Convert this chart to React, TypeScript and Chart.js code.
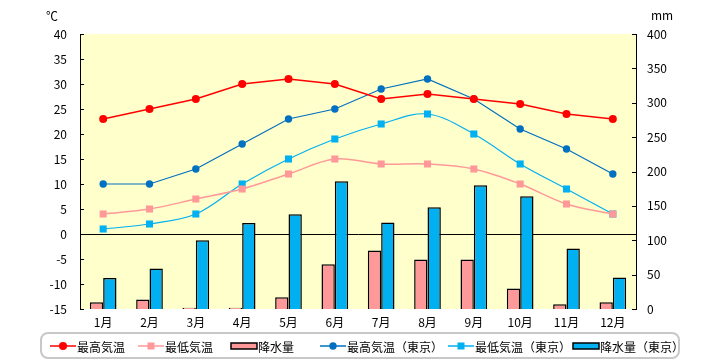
import React, { useEffect, useRef } from "react";
import { Chart, registerables } from "chart.js";

Chart.register(...registerables);

const months = ["1月", "2月", "3月", "4月", "5月", "6月", "7月", "8月", "9月", "10月", "11月", "12月"];
const maxTemp = [23, 25, 27, 30, 31, 30, 27, 28, 27, 26, 24, 23];
const minTemp = [4, 5, 7, 9, 12, 15, 14, 14, 13, 10, 6, 4];
const rain = [10, 14, 2, 2, 17, 65, 85, 72, 72, 30, 7, 10];
const maxTempTokyo = [10, 10, 13, 18, 23, 25, 29, 31, 27, 21, 17, 12];
const minTempTokyo = [1, 2, 4, 10, 15, 19, 22, 24, 20, 14, 9, 4];
const rainTokyo = [45, 59, 100, 125, 138, 186, 126, 148, 180, 164, 88, 46];

const FONT = "'Noto Sans CJK JP', 'Noto Sans', sans-serif";

const legendStarts = [50, 138, 231, 320, 448, 573];

const customPlugin = {
  id: "custom",
  beforeDraw(chart: any) {
    const { ctx, chartArea } = chart;
    ctx.save();
    ctx.fillStyle = "#FFFFCC";
    ctx.fillRect(chartArea.left, chartArea.top, chartArea.right - chartArea.left, chartArea.bottom - chartArea.top);
    ctx.restore();
  },
  afterDraw(chart: any) {
    const { ctx, chartArea } = chart;
    ctx.save();
    ctx.strokeStyle = "#000";
    ctx.lineWidth = 1;
    const ys = chart.scales.y;
    ys.ticks.forEach((t: any, i: number) => {
      const py = Math.round(ys.getPixelForTick(i)) + 0.5;
      ctx.beginPath();
      ctx.moveTo(chartArea.left, py);
      ctx.lineTo(chartArea.left + 4, py);
      ctx.stroke();
    });
    const y1 = chart.scales.y1;
    y1.ticks.forEach((t: any, i: number) => {
      const py = Math.round(y1.getPixelForTick(i)) + 0.5;
      ctx.beginPath();
      ctx.moveTo(chartArea.right - 4, py);
      ctx.lineTo(chartArea.right, py);
      ctx.stroke();
    });
    ctx.fillStyle = "#000";
    ctx.font = `12px ${FONT}`;
    ctx.textAlign = "center";
    ctx.textBaseline = "middle";
    ctx.fillText("℃", 52, 16);
    ctx.fillText("mm", 662, 15);
    ctx.strokeStyle = "#C8C8C8";
    ctx.lineWidth = 2;
    ctx.beginPath();
    (ctx as any).roundRect(41, 333, 638, 25, 7);
    ctx.stroke();
    const ly = 346;
    chart.data.datasets.forEach((ds: any, i: number) => {
      const x = legendStarts[i];
      if (ds.type === "bar") {
        ctx.fillStyle = ds.backgroundColor;
        ctx.fillRect(x, ly - 3, 26, 6);
        ctx.strokeStyle = "#000";
        ctx.lineWidth = 1.5;
        ctx.strokeRect(x, ly - 3, 26, 6);
      } else {
        ctx.strokeStyle = ds.borderColor;
        ctx.lineWidth = 1.5;
        ctx.beginPath();
        ctx.moveTo(x, ly);
        ctx.lineTo(x + 26, ly);
        ctx.stroke();
        ctx.fillStyle = ds.pointBackgroundColor;
        if (ds.pointStyle === "rect") {
          ctx.fillRect(x + 13 - 3.5, ly - 3.5, 7, 7);
        } else {
          ctx.beginPath();
          ctx.arc(x + 13, ly, ds.pointRadius, 0, Math.PI * 2);
          ctx.fill();
        }
      }
      ctx.fillStyle = "#000";
      ctx.textAlign = "left";
      ctx.textBaseline = "middle";
      ctx.font = `12px ${FONT}`;
      ctx.fillText(ds.label, x + 27, ly + 1);
    });
    ctx.restore();
  },
};

export default function App() {
  const ref = useRef<HTMLCanvasElement | null>(null);
  useEffect(() => {
    if (!ref.current) return;
    const chart = new Chart(ref.current, {
      type: "bar",
      data: {
        labels: months,
        datasets: [
          {
            type: "line",
            label: "最高気温",
            data: maxTemp,
            yAxisID: "y",
            borderColor: "#FF0000",
            backgroundColor: "#FF0000",
            pointBackgroundColor: "#FF0000",
            pointBorderColor: "#FF0000",
            pointStyle: "circle",
            pointRadius: 4,
            pointBorderWidth: 0,
            borderWidth: 1.5,
            tension: 0,
            order: 0,
          },
          {
            type: "line",
            label: "最低気温",
            data: minTemp,
            yAxisID: "y",
            borderColor: "#FF9999",
            backgroundColor: "#FF9999",
            pointBackgroundColor: "#FF9999",
            pointBorderColor: "#FF9999",
            pointStyle: "rect",
            pointRadius: 5,
            pointBorderWidth: 0,
            borderWidth: 1.5,
            tension: 0.35,
            order: 0,
          },
          {
            type: "bar",
            label: "降水量",
            data: rain,
            yAxisID: "y1",
            backgroundColor: "#FF9999",
            borderColor: "#000000",
            borderWidth: 1.5,
            categoryPercentage: 0.576,
            barPercentage: 1,
            order: 1,
          },
          {
            type: "line",
            label: "最高気温（東京）",
            data: maxTempTokyo,
            yAxisID: "y",
            borderColor: "#0070C0",
            backgroundColor: "#0070C0",
            pointBackgroundColor: "#0070C0",
            pointBorderColor: "#0070C0",
            pointStyle: "circle",
            pointRadius: 3.7,
            pointBorderWidth: 0,
            borderWidth: 1.2,
            tension: 0,
            order: 0,
          },
          {
            type: "line",
            label: "最低気温（東京）",
            data: minTempTokyo,
            yAxisID: "y",
            borderColor: "#00B0F0",
            backgroundColor: "#00B0F0",
            pointBackgroundColor: "#00B0F0",
            pointBorderColor: "#00B0F0",
            pointStyle: "rect",
            pointRadius: 5,
            pointBorderWidth: 0,
            borderWidth: 1.2,
            tension: 0.35,
            order: 0,
          },
          {
            type: "bar",
            label: "降水量（東京）",
            data: rainTokyo,
            yAxisID: "y1",
            backgroundColor: "#00B0F0",
            borderColor: "#000000",
            borderWidth: 1.5,
            categoryPercentage: 0.576,
            barPercentage: 1,
            order: 1,
          },
        ] as any,
      },
      options: {
        responsive: false,
        animation: false,
        layout: { padding: { top: 34, left: 0, right: 0, bottom: 0 } },
        plugins: {
          legend: { display: false },
          tooltip: { enabled: false },
        },
        scales: {
          x: {
            offset: true,
            grid: { display: false, drawTicks: false },
            border: { display: false },
            ticks: { color: "#000", font: { family: FONT, size: 12 }, padding: 6, maxRotation: 0 },
            afterFit(scale: any) {
              scale.height = 51;
            },
          },
          y: {
            position: "left",
            min: -15,
            max: 40,
            ticks: { stepSize: 5, color: "#000", font: { family: FONT, size: 12 }, padding: 13 },
            grid: {
              drawTicks: false,
              color: (c: any) => (c.tick && c.tick.value === 0 ? "#000000" : "rgba(0,0,0,0)"),
              lineWidth: 1,
            },
            border: { display: true, color: "#000", width: 1 },
            afterFit(scale: any) {
              scale.width = 80;
            },
          },
          y1: {
            position: "right",
            min: 0,
            max: 400,
            ticks: { stepSize: 50, color: "#000", font: { family: FONT, size: 12 }, padding: 11 },
            grid: { display: false, drawTicks: false },
            border: { display: true, color: "#000", width: 1 },
            afterFit(scale: any) {
              scale.width = 84;
            },
          },
        },
      } as any,
      plugins: [customPlugin],
    });
    return () => chart.destroy();
  }, []);
  return (
    <div style={{ position: "absolute", left: 0, top: 0, width: 720, height: 360, background: "#fff" }}>
      <canvas ref={ref} width={720} height={360} style={{ width: 720, height: 360 }} />
    </div>
  );
}
